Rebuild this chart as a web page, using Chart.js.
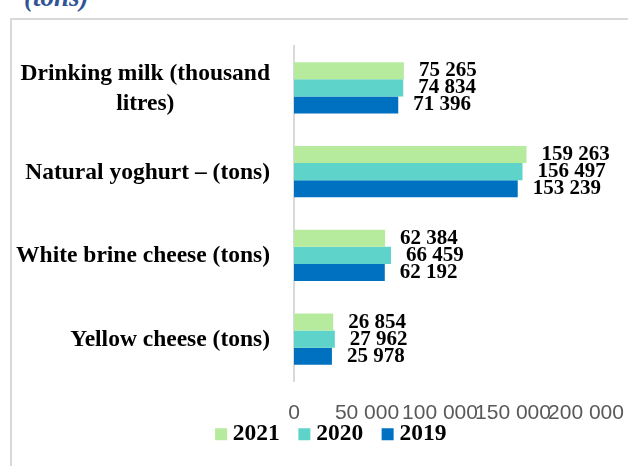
<!DOCTYPE html>
<html>
<head>
<meta charset="utf-8">
<script src="https://cdn.jsdelivr.net/npm/chart.js@4.4.1/dist/chart.umd.min.js"></script>
<style>
  html, body { margin: 0; padding: 0; background: #fff; width: 628px; height: 466px; overflow: hidden; position: relative; }
  #title { position: absolute; left: 24px; top: -16px; font: italic bold 27px/27px 'Liberation Serif', 'Times New Roman', serif; color: #2F5597; white-space: nowrap; }
  #frame { position: absolute; left: 10px; top: 18px; width: 700px; height: 520px; border: 2px solid #D9D9D9; }
  #wrap { position: absolute; left: 12px; top: 20px; width: 667px; height: 436px; }
</style>
</head>
<body>
<div id="title">(tons)</div>
<div id="frame"></div>
<div id="wrap"><canvas id="chart"></canvas></div>
<script>
// category labels (split where the original wraps)
const categories = [
  ['Drinking milk (thousand', 'litres)'],
  ['Natural yoghurt – (tons)'],
  ['White brine cheese (tons)'],
  ['Yellow cheese (tons)']
];
const seriesNames = ['2021', '2020', '2019'];
const values2021 = [75265, 159263, 62384, 26854];
const values2020 = [74834, 156497, 66459, 27962];
const values2019 = [71396, 153239, 62192, 25978];
const seriesColors = ['#B6EB9E', '#5DD3CA', '#0070C0'];
const xTicks = [0, 50000, 100000, 150000, 200000];

const SERIF = "'Liberation Serif', 'Times New Roman', serif";

function fmt(v) {
  return String(v).replace(/\B(?=(\d{3})+(?!\d))/g, ' ');
}

// category names drawn by hand: widest line right-aligned, other lines centred under it
const categoryLabels = {
  id: 'categoryLabels',
  afterDraw(chart) {
    const ctx = chart.ctx, y = chart.scales.y;
    const right = y.right - 24;
    ctx.save();
    ctx.font = 'bold 23.5px ' + SERIF;
    ctx.fillStyle = '#000';
    ctx.textAlign = 'center';
    ctx.textBaseline = 'middle';
    categories.forEach((lines, i) => {
      const cy = y.getPixelForTick(i);
      const w = Math.max(...lines.map(l => ctx.measureText(l).width));
      const cx = right - w / 2;
      const lh = 30;
      lines.forEach((l, j) => {
        ctx.fillText(l, cx, cy + 1 + (j - (lines.length - 1) / 2) * lh);
      });
    });
    ctx.restore();
  }
};

// value labels right of each bar
const valueLabels = {
  id: 'valueLabels',
  afterDatasetsDraw(chart) {
    const ctx = chart.ctx;
    ctx.save();
    ctx.font = 'bold 21px ' + SERIF;
    ctx.fillStyle = '#000';
    ctx.textAlign = 'left';
    ctx.textBaseline = 'middle';
    chart.data.datasets.forEach((ds, di) => {
      chart.getDatasetMeta(di).data.forEach((bar, i) => {
        ctx.fillText(fmt(ds.data[i]), bar.x + 15, bar.y);
      });
    });
    ctx.restore();
  }
};

new Chart(document.getElementById('chart'), {
  type: 'bar',
  data: {
    labels: categories,
    datasets: [
      { label: seriesNames[0], data: values2021, backgroundColor: seriesColors[0] },
      { label: seriesNames[1], data: values2020, backgroundColor: seriesColors[1] },
      { label: seriesNames[2], data: values2019, backgroundColor: seriesColors[2] }
    ]
  },
  options: {
    indexAxis: 'y',
    responsive: true,
    maintainAspectRatio: false,
    animation: false,
    layout: { padding: { top: 26, left: 0, right: 0, bottom: 0 } },
    datasets: {
      bar: { categoryPercentage: 0.61, barPercentage: 1.0, borderWidth: 0 }
    },
    scales: {
      x: {
        min: 0,
        max: 200000,
        afterBuildTicks: s => { s.ticks = xTicks.map(v => ({ value: v })); },
        // keep the legend tight under the tick labels
        afterFit: s => { s.height = 40.5; s.paddingRight = 93; },
        grid: { display: false, drawTicks: false },
        border: { display: false },
        ticks: {
          autoSkip: false,
          maxRotation: 0,
          padding: 23.6,
          color: '#595959',
          font: { family: "'Liberation Sans', Arial, sans-serif", size: 21, lineHeight: 0.8 },
          callback: v => fmt(v)
        }
      },
      y: {
        afterFit: s => { s.width = 282; },
        grid: { display: false },
        border: { display: true, color: '#D9D9D9', width: 2 },
        ticks: { display: false }
      }
    },
    plugins: {
      legend: {
        position: 'bottom',
        labels: {
          usePointStyle: true,
          pointStyle: 'rect',
          boxWidth: 0.01,
          boxHeight: 12,
          padding: 1,
          color: '#000',
          font: { family: SERIF, size: 23.5, weight: 'bold' },
          // pad the text so the items keep the original spacing
          generateLabels: chart => Chart.defaults.plugins.legend.labels.generateLabels(chart)
            .map(l => Object.assign(l, { text: l.text + '\u00a0\u00a0\u00a0\u00a0' }))
        }
      },
      tooltip: { enabled: false }
    }
  },
  plugins: [categoryLabels, valueLabels]
});
</script>
</body>
</html>
